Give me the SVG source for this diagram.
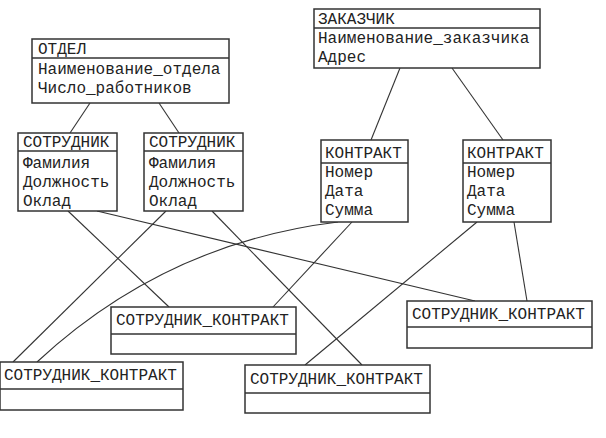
<svg xmlns="http://www.w3.org/2000/svg" width="606" height="438" viewBox="0 0 606 438">
<style>
.box{fill:#fff;stroke:#333;stroke-width:1.5}
.sep{stroke:#333;stroke-width:1.5}
.t{font-family:"Liberation Mono","DejaVu Sans Mono",monospace;font-size:16px;fill:#222}
.c{fill:none;stroke:#333;stroke-width:1.1}
</style>
<rect width="606" height="438" fill="#fff"/>
<g id="connectors">
<line class="c" x1="90" y1="103" x2="70" y2="133"/>
<line class="c" x1="159" y1="103" x2="179" y2="133"/>
<line class="c" x1="400" y1="68" x2="371" y2="140"/>
<line class="c" x1="452" y1="68" x2="503" y2="140"/>
<line class="c" x1="68" y1="211" x2="169" y2="307"/>
<line class="c" x1="97" y1="211" x2="475" y2="301"/>
<line class="c" x1="166" y1="211" x2="13" y2="362"/>
<line class="c" x1="212" y1="211" x2="362" y2="365"/>
<path class="c" d="M338,222 Q165,243 37,362"/>
<line class="c" x1="352" y1="222" x2="273" y2="307"/>
<line class="c" x1="477" y1="222" x2="305" y2="365"/>
<line class="c" x1="514" y1="222" x2="527" y2="301"/>
</g>
<g id="otdel">
<rect class="box" x="32" y="39" width="197" height="64"/>
<line class="sep" x1="32" y1="58" x2="229" y2="58"/>
<text class="t" x="38" y="54">ОТДЕЛ</text>
<text class="t" x="38" y="74">Наименование_отдела</text>
<text class="t" x="38" y="93">Число_работников</text>
</g>
<g id="zakazchik">
<rect class="box" x="314" y="9" width="226" height="59"/>
<line class="sep" x1="314" y1="28" x2="540" y2="28"/>
<text class="t" x="318" y="24">ЗАКАЗЧИК</text>
<text class="t" x="318" y="43">Наименование_заказчика</text>
<text class="t" x="318" y="62">Адрес</text>
</g>
<g id="sotrudnik1">
<rect class="box" x="18" y="133" width="99" height="78"/>
<line class="sep" x1="18" y1="151" x2="117" y2="151"/>
<text class="t" x="23" y="147">СОТРУДНИК</text>
<text class="t" x="23" y="168">Фамилия</text>
<text class="t" x="23" y="187">Должность</text>
<text class="t" x="23" y="206">Оклад</text>
</g>
<g id="sotrudnik2">
<rect class="box" x="144" y="133" width="99" height="78"/>
<line class="sep" x1="144" y1="151" x2="243" y2="151"/>
<text class="t" x="149" y="147">СОТРУДНИК</text>
<text class="t" x="149" y="168">Фамилия</text>
<text class="t" x="149" y="187">Должность</text>
<text class="t" x="149" y="206">Оклад</text>
</g>
<g id="kontrakt1">
<rect class="box" x="321" y="140" width="87" height="82"/>
<line class="sep" x1="321" y1="163" x2="408" y2="163"/>
<text class="t" x="325" y="158">КОНТРАКТ</text>
<text class="t" x="325" y="177">Номер</text>
<text class="t" x="325" y="196">Дата</text>
<text class="t" x="325" y="215">Сумма</text>
</g>
<g id="kontrakt2">
<rect class="box" x="463" y="140" width="88" height="82"/>
<line class="sep" x1="463" y1="163" x2="551" y2="163"/>
<text class="t" x="467" y="158">КОНТРАКТ</text>
<text class="t" x="467" y="177">Номер</text>
<text class="t" x="467" y="196">Дата</text>
<text class="t" x="467" y="215">Сумма</text>
</g>
<g id="sk1">
<rect class="box" x="111" y="307" width="185" height="47"/>
<line class="sep" x1="111" y1="334" x2="296" y2="334"/>
<text class="t" x="116" y="325">СОТРУДНИК_КОНТРАКТ</text>
</g>
<g id="sk2">
<rect class="box" x="0" y="362" width="183" height="48"/>
<line class="sep" x1="0" y1="389" x2="183" y2="389"/>
<text class="t" x="4" y="380">СОТРУДНИК_КОНТРАКТ</text>
</g>
<g id="sk3">
<rect class="box" x="245" y="365" width="185" height="48"/>
<line class="sep" x1="245" y1="393" x2="430" y2="393"/>
<text class="t" x="250" y="384">СОТРУДНИК_КОНТРАКТ</text>
</g>
<g id="sk4">
<rect class="box" x="407" y="301" width="185" height="47"/>
<line class="sep" x1="407" y1="327" x2="592" y2="327"/>
<text class="t" x="412" y="319">СОТРУДНИК_КОНТРАКТ</text>
</g>
</svg>
